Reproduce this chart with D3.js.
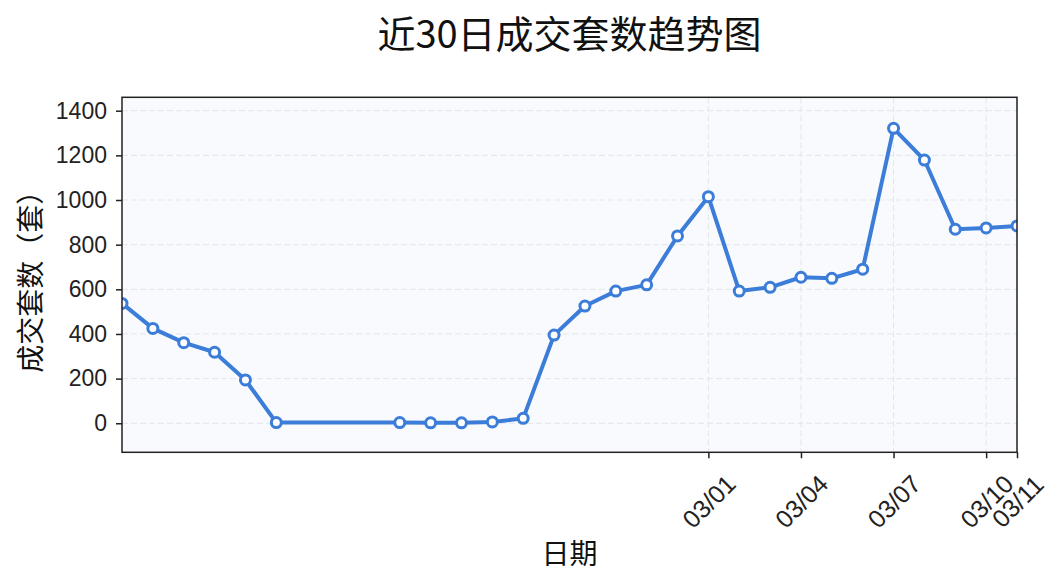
<!DOCTYPE html>
<html><head><meta charset="utf-8">
<script src="https://cdn.jsdelivr.net/npm/d3@7"></script>
<style>body{margin:0;background:#fff}svg{display:block}</style>
</head><body><svg id="c" width="1064" height="585"></svg>
<script>
const dates = ["2024-02-11","2024-02-12","2024-02-13","2024-02-14","2024-02-15","2024-02-16",
  "2024-02-20","2024-02-21","2024-02-22","2024-02-23","2024-02-24","2024-02-25","2024-02-26","2024-02-27","2024-02-28","2024-02-29",
  "2024-03-01","2024-03-02","2024-03-03","2024-03-04","2024-03-05","2024-03-06","2024-03-07","2024-03-08","2024-03-09","2024-03-10","2024-03-11"];
const counts = [537,425,361,318,194,3, 3,2,2,6,22,395,525,592,620,839, 1015,592,609,654,649,690,1321,1179,869,875,884];
const xTickDates = ["2024-03-01","2024-03-04","2024-03-07","2024-03-10","2024-03-11"];
const yTicks = [0,200,400,600,800,1000,1200,1400];
const title = "近30日成交套数趋势图";
const xLabel = "日期";
const yLabel = "成交套数（套）";

const parse = d3.timeParse("%Y-%m-%d");
const fmt = d3.timeFormat("%m/%d");
const data = dates.map((d,i)=>({date:parse(d), v:counts[i]}));

const L=122, R=1017, T=97.3, B=452.3;
const x = d3.scaleTime().domain(d3.extent(data,d=>d.date)).range([L,R]);
const y = d3.scaleLinear().domain([-130,1460]).range([B,T]);

const svg = d3.select("#c");
const tickFont = "'Liberation Sans', Arial, sans-serif";
const cjk = "'Noto Sans CJK SC', sans-serif";

svg.append("rect").attr("x",L).attr("y",T).attr("width",R-L).attr("height",B-T).attr("fill","#f8fafd");

svg.append("defs").append("clipPath").attr("id","clip").append("rect")
  .attr("x",L).attr("y",T).attr("width",R-L).attr("height",B-T);

// grid
const xt = xTickDates.map(parse);
svg.append("g").selectAll("line").data(yTicks).join("line")
  .attr("x1",L).attr("x2",R).attr("y1",d=>y(d)).attr("y2",d=>y(d))
  .attr("stroke","#e2e6eb").attr("stroke-width",1).attr("stroke-dasharray","6,3");
svg.append("g").selectAll("line").data(xt).join("line")
  .attr("y1",T).attr("y2",B).attr("x1",d=>x(d)).attr("x2",d=>x(d))
  .attr("stroke","#e2e6eb").attr("stroke-width",1).attr("stroke-dasharray","6,3");

// line
const g = svg.append("g").attr("clip-path","url(#clip)");
g.append("path").datum(data)
  .attr("d", d3.line().x(d=>x(d.date)).y(d=>y(d.v)))
  .attr("fill","none").attr("stroke","#3b7dd8").attr("stroke-width",4).attr("stroke-linejoin","round");
g.selectAll("circle").data(data).join("circle")
  .attr("cx",d=>x(d.date)).attr("cy",d=>y(d.v)).attr("r",5)
  .attr("fill","#fff").attr("stroke","#3b7dd8").attr("stroke-width",3);

// axes
const yAxis = d3.axisLeft(y).tickValues(yTicks).tickFormat(d3.format("d")).tickSize(6).tickPadding(9).tickSizeOuter(0);
const ya = svg.append("g").attr("transform",`translate(${L},0)`).call(yAxis);
ya.select(".domain").remove();
ya.selectAll("line").attr("stroke","#222").attr("stroke-width",1.5);
ya.selectAll("text").attr("font-family",tickFont).attr("font-size",23).attr("fill","#222");

const xAxis = d3.axisBottom(x).tickValues(xt).tickFormat(fmt).tickSize(6).tickSizeOuter(0);
const xa = svg.append("g").attr("transform",`translate(0,${B})`).call(xAxis);
xa.select(".domain").remove();
xa.selectAll("line").attr("stroke","#222").attr("stroke-width",1.5);
xa.selectAll("text").attr("font-family",tickFont).attr("font-size",25).attr("fill","#222")
  .attr("text-anchor","middle").attr("dominant-baseline","central")
  .attr("y",49).attr("dy",null)
  .attr("transform","rotate(-45 0 49)");

// spines
svg.append("rect").attr("x",L).attr("y",T).attr("width",R-L).attr("height",B-T)
  .attr("fill","none").attr("stroke","#222").attr("stroke-width",1.5);

// titles
svg.append("text").attr("x",(L+R)/2).attr("y",48).attr("text-anchor","middle")
  .attr("font-family",cjk).attr("font-size",38).attr("fill","#111").text(title);
svg.append("text").attr("x",(L+R)/2).attr("y",564).attr("text-anchor","middle")
  .attr("font-family",cjk).attr("font-size",28).attr("fill","#111").text(xLabel);
svg.append("text").attr("transform",`translate(41,${(T+B)/2}) rotate(-90)`).attr("text-anchor","middle")
  .attr("font-family",cjk).attr("font-size",28).attr("fill","#111").text(yLabel);
</script></body></html>
